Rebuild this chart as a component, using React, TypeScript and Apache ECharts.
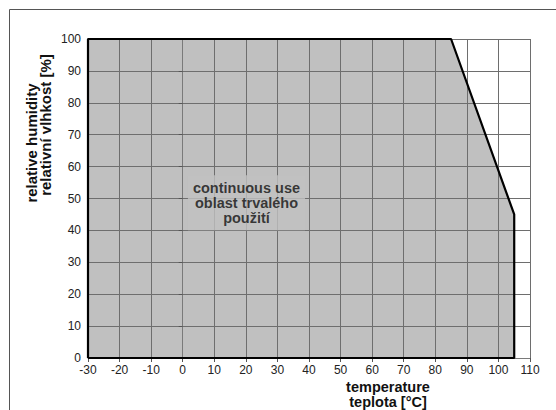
import React, { useEffect, useRef } from "react";
import * as echarts from "echarts";

const FONT = "'Liberation Sans', Arial, Helvetica, sans-serif";

// boundary of the continuous-use region [temperature °C, relative humidity %]
const regionTemps = [-30, -30, 85, 105, 105, -30];
const regionHumidity = [0, 100, 100, 45, 0, 0];

const xTicks = { min: -30, max: 110, step: 10 };
const yTicks = { min: 0, max: 100, step: 10 };

const regionLabelLines = ["continuous use", "oblast trvalého", "použití"];
const regionLabelPos = [20.2, 48.7];

const yNameLines = ["relative humidity", "relativní vlhkost [%]"];
const xNameLines = ["temperature", "teplota [°C]"];

export default function App() {
  const ref = useRef<HTMLDivElement>(null);
  useEffect(() => {
    if (!ref.current) return;
    const chart = echarts.init(ref.current, null, { renderer: "svg" });
    const regionData = regionTemps.map((t, i) => [t, regionHumidity[i]]);
    const axisCommon = {
      type: "value" as const,
      z: 3,
      axisLine: { show: true, lineStyle: { color: "#7a7a7a", width: 1 } },
      axisTick: { show: true, length: 4, lineStyle: { color: "#555" } },
      axisLabel: { color: "#222", fontSize: 12, fontFamily: FONT },
      splitLine: { show: true, lineStyle: { color: "#6e6e6e", width: 1 } },
    };
    chart.setOption({
      animation: false,
      grid: { left: 88, top: 39, right: 26, bottom: 52, show: false },
      xAxis: {
        ...axisCommon,
        min: xTicks.min,
        max: xTicks.max,
        interval: xTicks.step,
        axisLabel: { ...axisCommon.axisLabel, margin: 6 },
      },
      yAxis: {
        ...axisCommon,
        min: yTicks.min,
        max: yTicks.max,
        interval: yTicks.step,
        axisLabel: { ...axisCommon.axisLabel, margin: 7 },
      },
      series: [
        {
          type: "line",
          z: 2,
          data: regionData,
          showSymbol: false,
          lineStyle: { width: 0, opacity: 0 },
          areaStyle: { color: "#c0c0c0", opacity: 1 },
          silent: true,
        },
        {
          type: "line",
          z: 4,
          data: regionData,
          showSymbol: false,
          lineStyle: { color: "#000", width: 2.2 },
          silent: true,
        },
        {
          type: "scatter",
          z: 5,
          data: [regionLabelPos],
          symbolSize: 1,
          itemStyle: { color: "rgba(0,0,0,0)" },
          label: {
            show: true,
            position: "inside",
            formatter: regionLabelLines.join("\n"),
            fontSize: 14.5,
            fontWeight: "bold",
            fontFamily: FONT,
            color: "#111",
            lineHeight: 15,
            align: "center",
            backgroundColor: "#c0c0c0",
            padding: [5, 5],
          },
          silent: true,
        },
      ],
      graphic: [
        {
          type: "rect",
          z: -1,
          shape: { x: 9.5, y: 9.5, width: 700, height: 500 },
          style: { fill: "none", stroke: "#555", lineWidth: 1 },
        },
        {
          type: "text",
          x: 31,
          y: 143,
          rotation: Math.PI / 2,
          style: {
            text: yNameLines[0],
            font: `bold 15px ${FONT}`,
            fill: "#111",
            align: "center",
            verticalAlign: "middle",
          },
        },
        {
          type: "text",
          x: 45.5,
          y: 125,
          rotation: Math.PI / 2,
          style: {
            text: yNameLines[1],
            font: `bold 15px ${FONT}`,
            fill: "#111",
            align: "center",
            verticalAlign: "middle",
          },
        },
        {
          type: "text",
          x: 388,
          y: 394.5,
          style: {
            text: xNameLines.join("\n"),
            font: `bold 14.5px ${FONT}`,
            lineHeight: 15.5,
            fill: "#111",
            align: "center",
            verticalAlign: "middle",
          },
        },
      ],
    });
    return () => chart.dispose();
  }, []);
  return (
    <div
      ref={ref}
      style={{ position: "absolute", left: 0, top: 0, width: 556, height: 410, background: "#fff" }}
    />
  );
}
